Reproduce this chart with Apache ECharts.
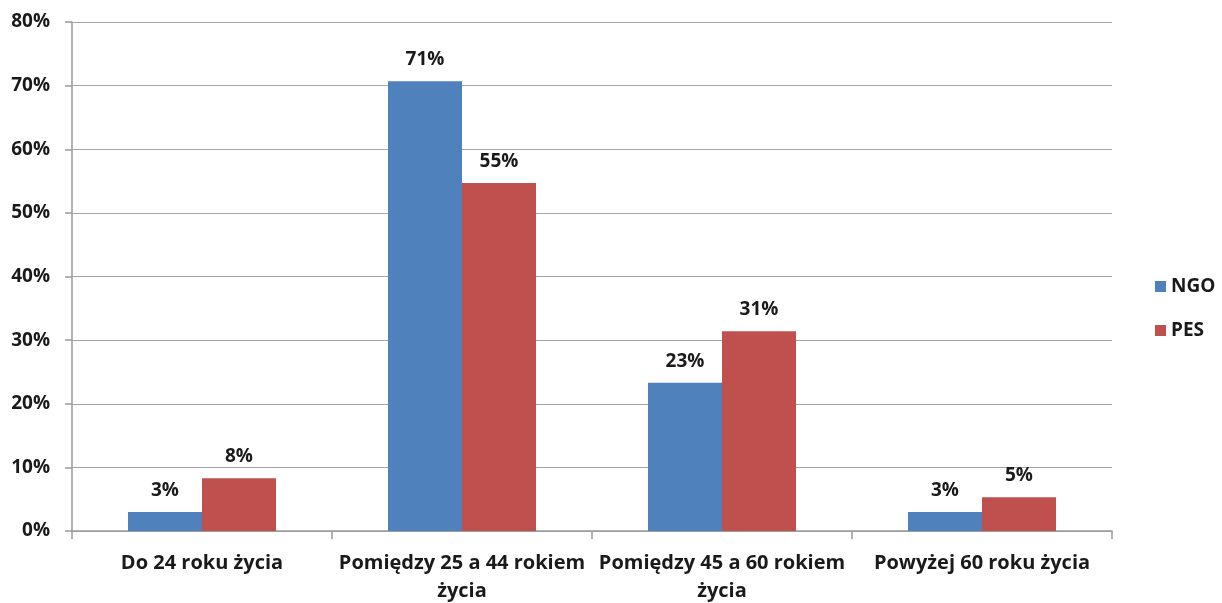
<!DOCTYPE html>
<html>
<head>
<meta charset="utf-8">
<script src="https://cdn.jsdelivr.net/npm/echarts@6/dist/echarts.min.js"></script>
<style>
  html, body { margin: 0; padding: 0; background: #fff; }
  #chart { width: 1222px; height: 603px; }
</style>
</head>
<body>
<div id="chart"></div>
<script>
var kategorie = [
  "Do 24 roku życia",
  "Pomiędzy 25 a 44 rokiem\nżycia",
  "Pomiędzy 45 a 60 rokiem\nżycia",
  "Powyżej 60 roku życia"
];
var ngo = [3.0, 70.7, 23.3, 3.0];
var pes = [8.3, 54.7, 31.4, 5.3];
var osY = [0, 10, 20, 30, 40, 50, 60, 70, 80];

var czcionka = "'Open Sans', sans-serif";

var myChart = echarts.init(document.getElementById("chart"));

// etykiety nad słupkami
var etykieta = {
  show: true,
  position: "top",
  distance: 12,
  fontFamily: czcionka,
  fontWeight: "bold",
  fontSize: 19,
  color: "#1a1a1a",
  formatter: function (p) {
    return Math.round(p.value) + "%";
  }
};

var option = {
  animation: false,
  grid: { left: 72, right: 110, top: 22, bottom: 72, outerBoundsMode: "none" },
  legend: {
    orient: "vertical",
    left: 1150,
    top: 272,
    itemWidth: 11,
    itemHeight: 11,
    itemGap: 25,
    icon: "rect",
    textStyle: { fontFamily: czcionka, fontWeight: "bold", fontSize: 19, color: "#1a1a1a" },
    data: ["NGO", "PES"]
  },
  xAxis: {
    type: "category",
    data: kategorie,
    axisLine: { lineStyle: { color: "#9a9a9a", width: 1.5 } },
    axisTick: { show: true, length: 8, lineStyle: { color: "#9a9a9a", width: 1.5 } },
    axisLabel: {
      interval: 0,
      margin: 18,
      fontFamily: czcionka,
      fontWeight: "bold",
      fontSize: 20,
      lineHeight: 28,
      color: "#1a1a1a"
    }
  },
  yAxis: {
    type: "value",
    min: 0,
    max: 80,
    interval: 10,
    axisLine: { show: true, lineStyle: { color: "#9a9a9a", width: 1.5 } },
    axisTick: { show: true, length: 7, lineStyle: { color: "#9a9a9a", width: 1.5 } },
    splitLine: { lineStyle: { color: "#a6a6a6", width: 1.2 } },
    axisLabel: {
      margin: 22,
      fontFamily: czcionka,
      fontWeight: "bold",
      fontSize: 19,
      color: "#1a1a1a",
      formatter: function (v) {
        return osY.indexOf(v) >= 0 ? v + "%" : "";
      }
    }
  },
  series: [
    {
      name: "NGO",
      type: "bar",
      data: ngo,
      barWidth: 74,
      barGap: "0%",
      itemStyle: { color: "#4f81bd" },
      label: etykieta
    },
    {
      name: "PES",
      type: "bar",
      data: pes,
      barWidth: 74,
      itemStyle: { color: "#c0504d" },
      label: etykieta
    }
  ]
};

myChart.setOption(option);
</script>
</body>
</html>
